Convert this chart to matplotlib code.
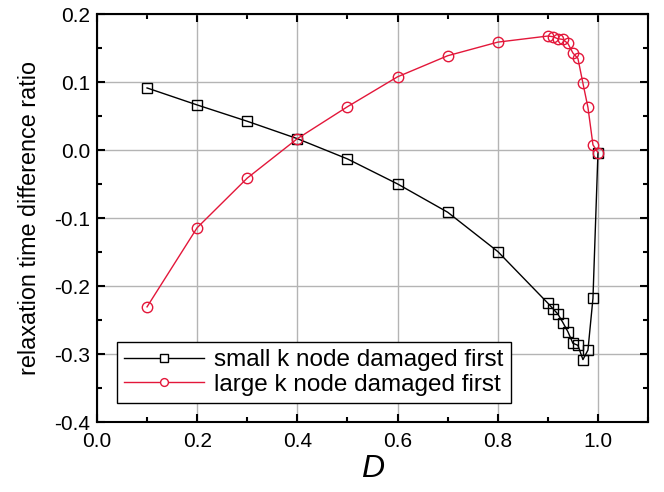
import numpy as np
import matplotlib.pyplot as plt
from matplotlib.ticker import MultipleLocator

plt.rcParams['font.family'] = ['Liberation Sans', 'DejaVu Sans']

# data
d_small = [0.1, 0.2, 0.3, 0.4, 0.5, 0.6, 0.7, 0.8, 0.9, 0.91, 0.92, 0.93, 0.94,
           0.95, 0.96, 0.97, 0.98, 0.99, 1.0]
small_first = [0.0916, 0.0666, 0.0426, 0.017, -0.0128, -0.0496, -0.0912, -0.149,
               -0.225, -0.233, -0.241, -0.2535, -0.267, -0.284, -0.287, -0.308,
               -0.294, -0.218, -0.0035]

d_large = [0.1, 0.2, 0.3, 0.4, 0.5, 0.6, 0.7, 0.8, 0.9, 0.91, 0.92, 0.93, 0.94,
           0.95, 0.96, 0.97, 0.98, 0.99, 1.0]
large_first = [-0.2304, -0.114, -0.041, 0.017, 0.064, 0.108, 0.139, 0.159,
               0.168, 0.167, 0.164, 0.163, 0.157, 0.143, 0.135, 0.0985,
               0.063, 0.008, -0.0035]

red = '#e3173a'

fig = plt.figure(figsize=(6.64, 4.92), dpi=100)
ax = fig.add_axes([0.146, 0.142, 0.830, 0.829])

ax.plot(d_small, small_first, color='black', lw=1.0, marker='s', ms=7,
        mfc='none', mec='black', mew=1.0, label='small k node damaged first')
ax.plot(d_large, large_first, color=red, lw=1.0, marker='o', ms=7.5,
        mfc='none', mec=red, mew=1.0, label='large k node damaged first')

ax.set_xlim(0.0, 1.1)
ax.set_ylim(-0.4, 0.2)
ax.xaxis.set_major_locator(MultipleLocator(0.2))
ax.xaxis.set_minor_locator(MultipleLocator(0.1))
ax.yaxis.set_major_locator(MultipleLocator(0.1))
ax.yaxis.set_minor_locator(MultipleLocator(0.05))
ax.xaxis.set_major_formatter(plt.FormatStrFormatter('%.1f'))
ax.yaxis.set_major_formatter(plt.FormatStrFormatter('%.1f'))

ax.grid(True, which='major', color='#b4b4b4', lw=1.0)
ax.set_axisbelow(True)
ax.tick_params(which='both', direction='in', top=True, right=True,
               labelsize=15, width=1.5)
ax.tick_params(which='major', length=6)
ax.tick_params(which='minor', length=3.5)
ax.tick_params(axis='x', pad=7)
ax.tick_params(axis='y', pad=5)
for s in ax.spines.values():
    s.set_linewidth(1.5)

ax.set_xlabel('D', fontsize=23, style='italic', labelpad=2)
ax.set_ylabel('relaxation time difference ratio', fontsize=16.8, labelpad=9)

leg = ax.legend(loc='lower left', bbox_to_anchor=(0.036, 0.047), fontsize=17.5,
                numpoints=1, fancybox=False, edgecolor='black', framealpha=1,
                handlelength=3.3, handletextpad=0.4, borderpad=0.3,
                labelspacing=0.1, borderaxespad=0, markerscale=0.75)
leg.get_frame().set_linewidth(1.0)
for h in leg.legend_handles:
    h.set_markerfacecolor('white')

fig.savefig('out.png', dpi=100)
